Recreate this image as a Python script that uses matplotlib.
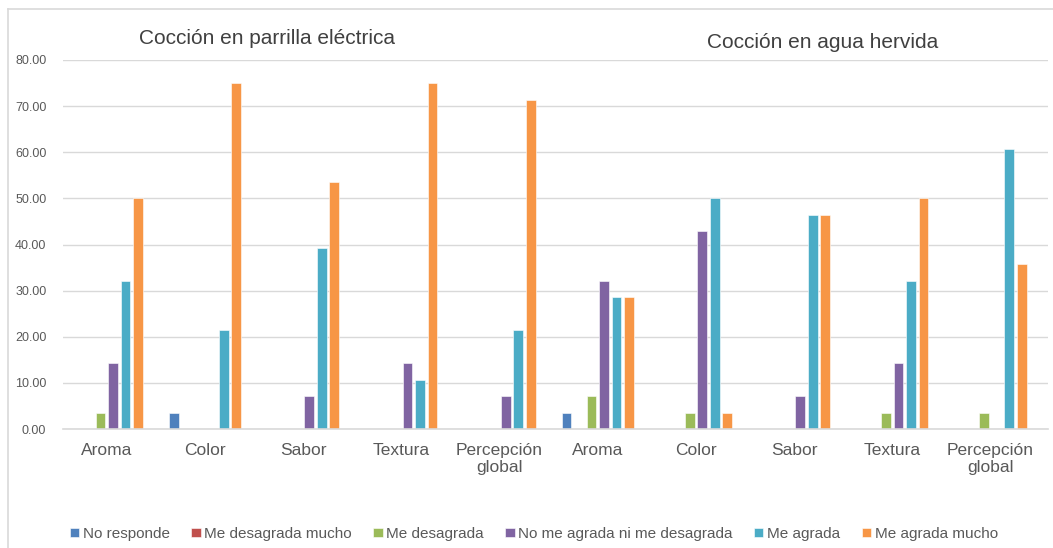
import matplotlib
matplotlib.use("Agg")
import matplotlib.pyplot as plt
import numpy as np
from matplotlib.lines import Line2D

plt.rcParams['font.family'] = ['Liberation Sans', 'DejaVu Sans']

# sensory attributes, first five for grill, last five for boiled water
categories = ['Aroma', 'Color', 'Sabor', 'Textura', 'Percepción\nglobal',
              'Aroma', 'Color', 'Sabor', 'Textura', 'Percepción\nglobal']

series_names = ['No responde', 'Me desagrada mucho', 'Me desagrada',
                'No me agrada ni me desagrada', 'Me agrada', 'Me agrada mucho']

no_responde = [0, 3.57, 0, 0, 0, 3.57, 0, 0, 0, 0]
desagrada_mucho = [0, 0, 0, 0, 0, 0, 0, 0, 0, 0]
desagrada = [3.57, 0, 0, 0, 0, 7.14, 3.57, 0, 3.57, 3.57]
indiferente = [14.29, 0, 7.14, 14.29, 7.14, 32.14, 42.86, 7.14, 14.29, 0]
agrada = [32.14, 21.43, 39.29, 10.71, 21.43, 28.57, 50.00, 46.43, 32.14, 60.71]
agrada_mucho = [50.00, 75.00, 53.57, 75.00, 71.43, 28.57, 3.57, 46.43, 50.00, 35.71]

colors = ['#4F81BD', '#C0504D', '#9BBB59', '#8064A2', '#4BACC6', '#F79646']

W, H = 1053, 548
fig = plt.figure(figsize=(W / 100, H / 100), dpi=100)

# chart frame: only left and top edges fall inside the image
fig.add_artist(Line2D([8 / W, 8 / W], [0, 1 - 9 / H], transform=fig.transFigure,
                      color='#D9D9D9', linewidth=1.2))
fig.add_artist(Line2D([8 / W, 1], [1 - 9 / H, 1 - 9 / H], transform=fig.transFigure,
                      color='#D9D9D9', linewidth=1.2))

ax = fig.add_axes([63 / W, 1 - 429 / H, (1048 - 63) / W, (429 - 60) / H])

data = [no_responde, desagrada_mucho, desagrada, indiferente, agrada, agrada_mucho]
x = np.arange(len(categories))
slot = 0.127
for i, (vals, name, c) in enumerate(zip(data, series_names, colors)):
    ax.bar(x + (i - 2.5) * slot, vals, width=0.10, color=c, label=name,
           edgecolor='white', linewidth=0.4)

ax.set_xlim(-0.4455, 9.585)
ax.set_ylim(0, 80)
ax.set_yticks(np.arange(0, 81, 10))
ax.set_yticklabels(['%.2f' % v for v in np.arange(0, 81, 10)])
ax.set_xticks(x)
ax.set_xticklabels(categories, fontsize=12.5, color='#595959', linespacing=1.2)
ax.tick_params(axis='y', labelsize=9, colors='#595959', length=0, pad=12)
ax.tick_params(axis='x', length=0, pad=10)
ax.grid(axis='y', color='#D9D9D9', linewidth=1)
ax.set_axisbelow(True)
for s in ['top', 'right', 'left']:
    ax.spines[s].set_visible(False)
ax.spines['bottom'].set_color('#D9D9D9')
ax.spines['bottom'].set_linewidth(1.2)

fig.text(267 / W, 1 - 39 / H, 'Cocción en parrilla eléctrica', fontsize=15,
         color='#404040', ha='center', va='center')
fig.text(823 / W, 1 - 43 / H, 'Cocción en agua hervida', fontsize=15,
         color='#404040', ha='center', va='center')

fig.legend(loc='center', bbox_to_anchor=(534 / W, 1 - 534 / H), ncol=6,
           frameon=False, fontsize=11, handlelength=0.6, handleheight=0.6,
           handletextpad=0.25, columnspacing=1.4, labelcolor='#595959')

fig.savefig('out.png', dpi=100)
